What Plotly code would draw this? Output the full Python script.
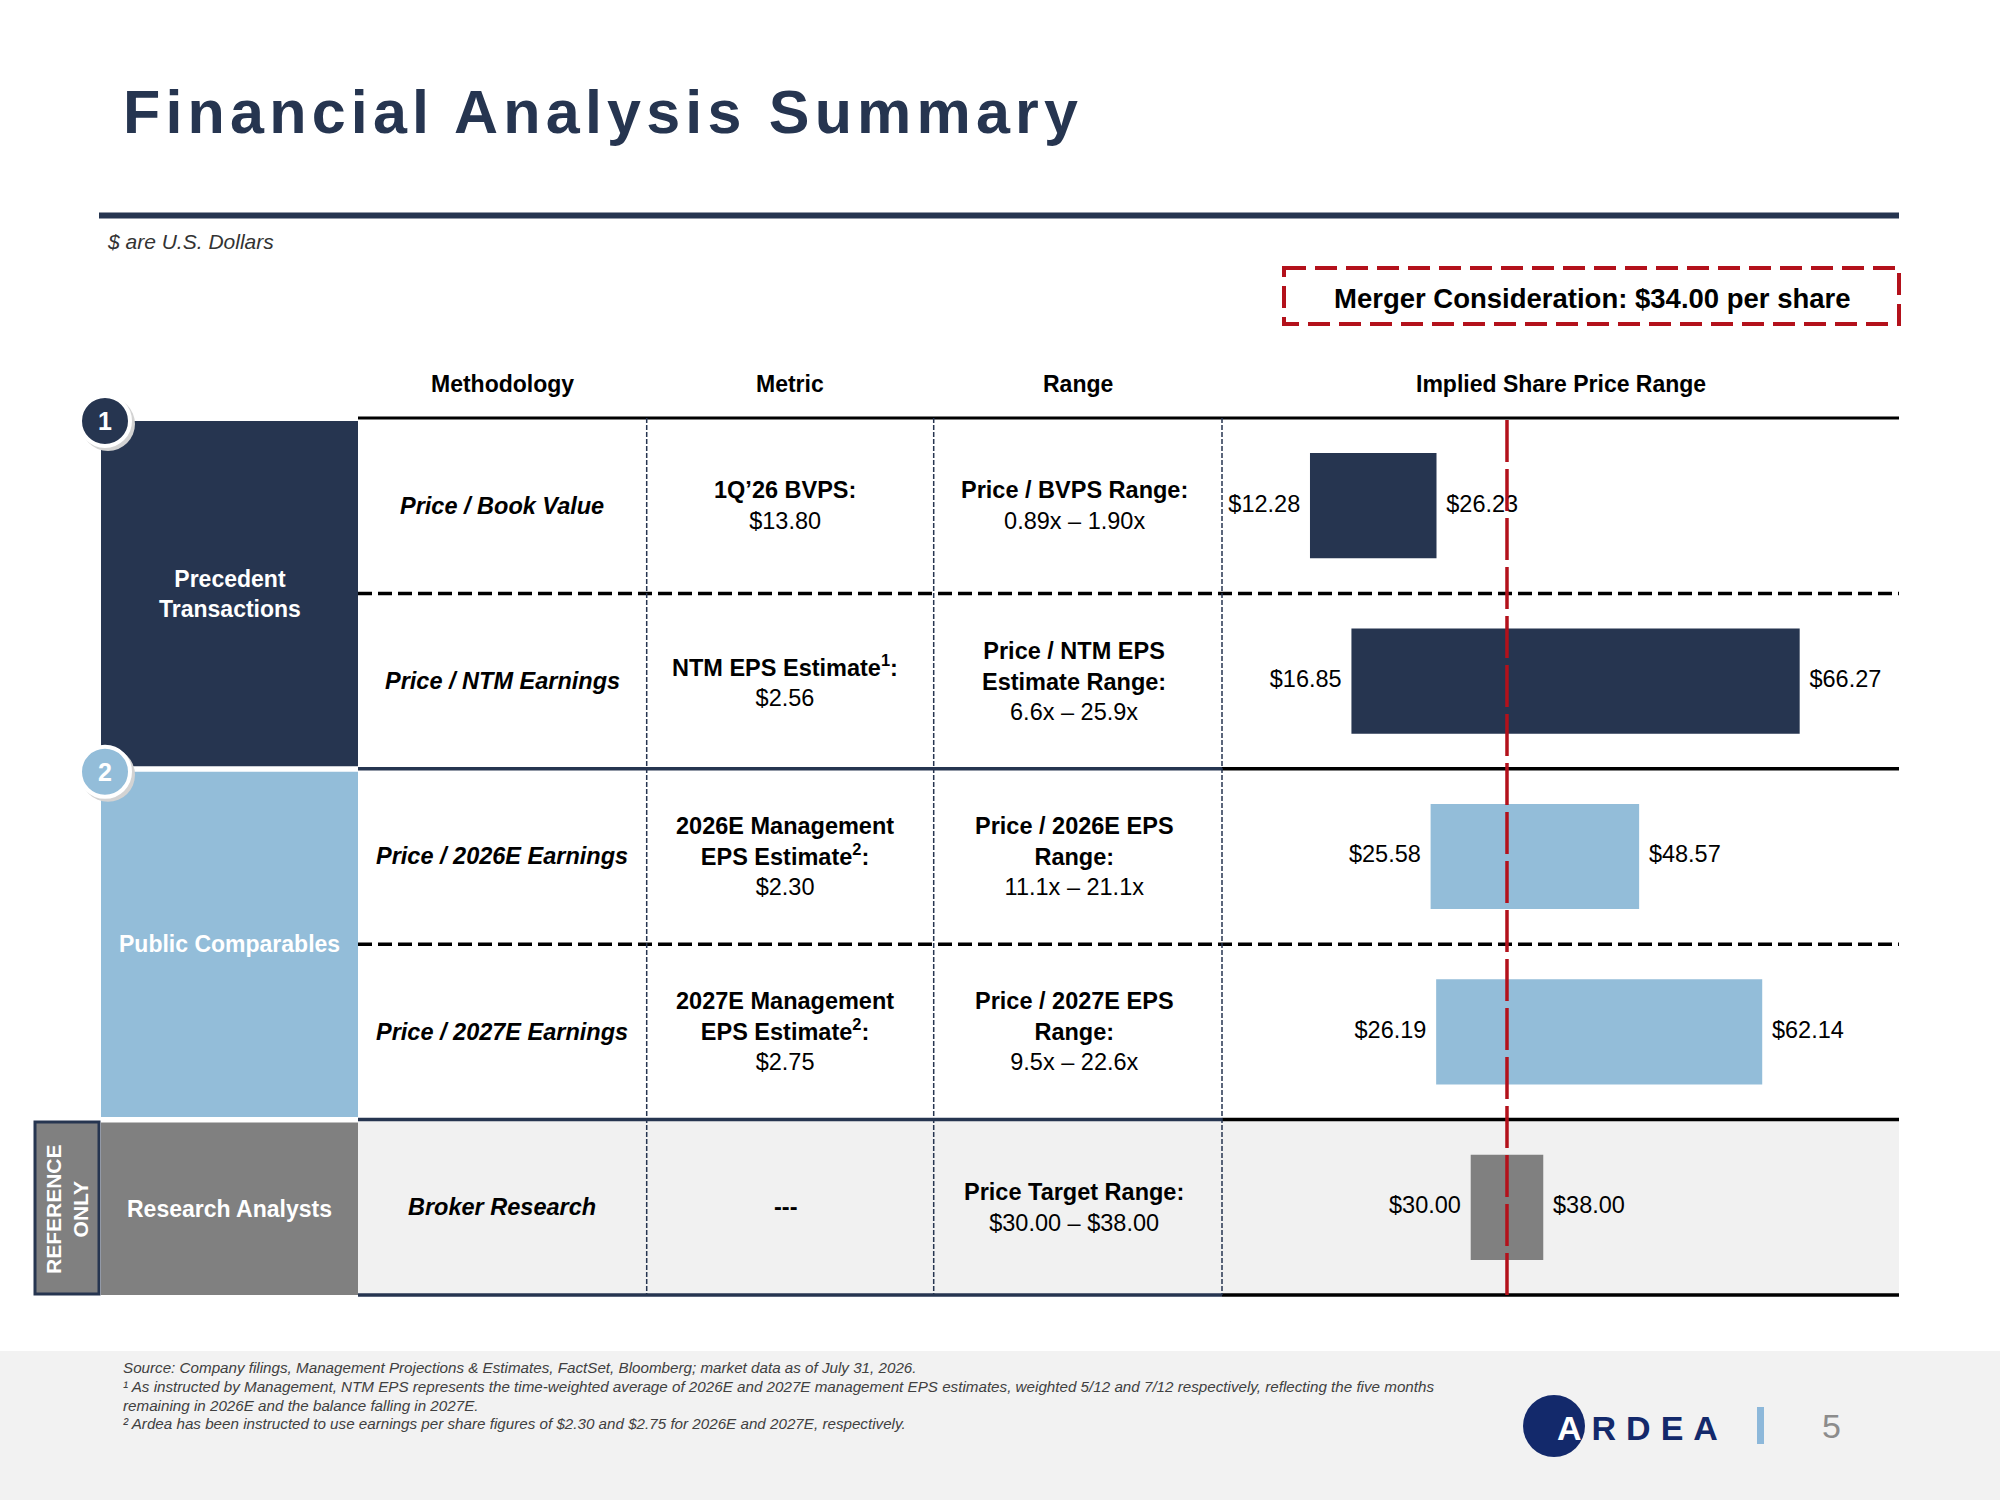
import plotly.graph_objects as go

# ---- data ----
methods = ["Price / Book Value", "Price / NTM Earnings", "Price / 2026E Earnings",
           "Price / 2027E Earnings", "Broker Research"]
metric_titles = ["1Q’26 BVPS:", "NTM EPS Estimate<sup>1</sup>:",
                 "2026E Management<br>EPS Estimate<sup>2</sup>:",
                 "2027E Management<br>EPS Estimate<sup>2</sup>:", "---"]
metric_values = ["$13.80", "$2.56", "$2.30", "$2.75", ""]
range_titles = ["Price / BVPS Range:", "Price / NTM EPS<br>Estimate Range:",
                "Price / 2026E EPS<br>Range:", "Price / 2027E EPS<br>Range:",
                "Price Target Range:"]
range_values = ["0.89x – 1.90x", "6.6x – 25.9x", "11.1x – 21.1x", "9.5x – 22.6x",
                "$30.00 – $38.00"]
low_price = [12.28, 16.85, 25.58, 26.19, 30.00]
high_price = [26.23, 66.27, 48.57, 62.14, 38.00]
merger_price = 34.00

groups = ["Precedent<br>Transactions", "Public Comparables", "Research Analysts"]
group_rows = [(0, 2), (2, 4), (4, 5)]
headers = ["Methodology", "Metric", "Range", "Implied Share Price Range"]

footnotes = [
    "Source: Company filings, Management Projections & Estimates, FactSet, Bloomberg; market data as of July 31, 2026.",
    "¹ As instructed by Management, NTM EPS represents the time-weighted average of 2026E and 2027E management EPS estimates, weighted 5/12 and 7/12 respectively, reflecting the five months",
    "remaining in 2026E and the balance falling in 2027E.",
    "² Ardea has been instructed to use earnings per share figures of $2.30 and $2.75 for 2026E and 2027E, respectively.",
]

# ---- styling ----
NAVY = "#263550"
LIGHT_BLUE = "#93BDD9"
GREY = "#808080"
RED = "#B3111B"
FONT = "Liberation Sans, Arial, sans-serif"
bar_colors = [NAVY, NAVY, LIGHT_BLUE, LIGHT_BLUE, GREY]
group_colors = [NAVY, LIGHT_BLUE, GREY]

W, H = 2000, 1500
TOP, ROW_H = 418, 175.4
BOTTOM = TOP + 5 * ROW_H
col_edges = [358, 646.7, 933.7, 1222, 1899]
text_cols = [502, 785, 1074]


def px(x):
    return x / W


def py(y):
    return 1 - y / H


annotations = []
shapes = []


def note(x, y, text, size, color="black", weight="normal", style="normal",
         xanchor="center", angle=0):
    annotations.append(dict(
        x=px(x), y=py(y), xref="paper", yref="paper", text=text, showarrow=False,
        xanchor=xanchor, yanchor="middle", align="center" if xanchor == "center" else "left",
        textangle=angle,
        font=dict(family=FONT, size=size, color=color, weight=weight, style=style)))


def line(x0, y0, x1, y1, color, width, dash="solid", layer="above"):
    shapes.append(dict(type="line", xref="paper", yref="paper", x0=px(x0), y0=py(y0),
                       x1=px(x1), y1=py(y1), line=dict(color=color, width=width, dash=dash),
                       layer=layer))


def rect(x0, y0, x1, y1, fill, border=None, width=0, dash="solid", layer="below"):
    shapes.append(dict(type="rect", xref="paper", yref="paper", x0=px(x0), y0=py(y0),
                       x1=px(x1), y1=py(y1), fillcolor=fill, layer=layer,
                       line=dict(color=border or fill, width=width, dash=dash)))


def circle(cx, cy, r, fill, border, width):
    shapes.append(dict(type="circle", xref="paper", yref="paper", x0=px(cx - r), y0=py(cy + r),
                       x1=px(cx + r), y1=py(cy - r), fillcolor=fill, layer="above",
                       line=dict(color=border, width=width)))


# header / title
note(121, 112, "Financial Analysis Summary", 61, NAVY, "bold", xanchor="left")
line(99, 215.5, 1899, 215.5, NAVY, 6)
note(105, 241, "$ are U.S. Dollars", 21, "#333333", style="italic", xanchor="left")

rect(1284, 268, 1899, 324, "rgba(0,0,0,0)", RED, 4, "22px,9px", layer="above")
note(1592, 298, f"Merger Consideration: ${merger_price:.2f} per share", 27.5, "black", "bold")

for i, h in enumerate(headers):
    note((col_edges[i] + col_edges[i + 1]) / 2, 384, h, 23, "black", "bold")

# row 5 background, footer band
rect(358, BOTTOM - ROW_H, 1899, BOTTOM, "#F1F1F1")
rect(0, 1351, 2000, 1500, "#F2F2F2")

# group blocks
for (r0, r1), g, c in zip(group_rows, groups, group_colors):
    top = TOP + r0 * ROW_H + 3
    bot = TOP + r1 * ROW_H - (0 if r1 == 5 else 2.5)
    rect(101, top, 358, bot, c)
    note(229.5, (top + bot) / 2, g, 23, "white", "bold")

rect(35, 1122, 99, BOTTOM - 1, GREY, NAVY, 3)
note(67, 1209, "REFERENCE<br>ONLY", 21, "white", "bold", angle=-90)

# table lines
line(358, TOP, 1899, TOP, "black", 3)
for k in range(1, 6):
    y = TOP + k * ROW_H
    if k % 2 == 1 and k < 5:
        line(358, y, 1899, y, "black", 3.5, "14px,6px")
    else:
        line(358, y, 1222, y, NAVY, 3.5)
        line(1222, y, 1899, y, "black", 3.5)
for x in col_edges[1:4]:
    line(x, TOP, x, BOTTOM, NAVY, 1.5, "5px,2px")

# cell text
for i in range(5):
    yc = TOP + (i + 0.5) * ROW_H
    note(text_cols[0], yc, f"<i>{methods[i]}</i>", 23.5, "black", "bold")
    mt = f"<b>{metric_titles[i]}</b>" + (f"<br>{metric_values[i]}" if metric_values[i] else "")
    note(text_cols[1], yc, mt, 23.5)
    note(text_cols[2], yc, f"<b>{range_titles[i]}</b><br>{range_values[i]}", 23.5)

# numbered circles
for (r0, _), c, n in zip(group_rows[:2], group_colors[:2], ["1", "2"]):
    cy = TOP + r0 * ROW_H + 3
    circle(108, cy + 3, 27, "#D3D3D3", "#D3D3D3", 0)
    circle(105, cy, 25, c, "white", 4)
    note(105, cy, n, 25, "white", "bold")

# footer
for fy, t in zip([1367, 1386, 1405, 1423], footnotes):
    note(121, fy, t, 15.2, "#404040", style="italic", xanchor="left")
circle(1554, 1426, 31, "#13296B", "#13296B", 0)
note(1555, 1428, "<span style='color:white'>A</span>RDEA", 34, "#13296B", "bold",
     xanchor="left")
rect(1757, 1407, 1764, 1444, "#8DB8DA", layer="above")
note(1831, 1426, "5", 34, "#8C8C8C")

# red merger line in data coordinates
shapes.append(dict(type="line", xref="x", yref="paper", x0=merger_price, x1=merger_price,
                   y0=py(BOTTOM), y1=py(TOP), layer="above",
                   line=dict(color=RED, width=3.5, dash="42px,7px")))

fig = go.Figure()
fig.add_trace(go.Bar(
    y=methods, x=[h - l for l, h in zip(low_price, high_price)], base=low_price,
    orientation="h", width=0.6, marker=dict(color=bar_colors, line=dict(width=0)),
    hoverinfo="skip", showlegend=False))
fig.add_trace(go.Scatter(
    y=methods, x=low_price, mode="markers+text", text=[f"${v:.2f}" for v in low_price],
    textposition="middle left", marker=dict(size=14, opacity=0),
    textfont=dict(family=FONT, size=23.5, color="black"), hoverinfo="skip", showlegend=False))
fig.add_trace(go.Scatter(
    y=methods, x=high_price, mode="markers+text", text=[f"${v:.2f}" for v in high_price],
    textposition="middle right", marker=dict(size=14, opacity=0),
    textfont=dict(family=FONT, size=23.5, color="black"), hoverinfo="skip", showlegend=False))

fig.update_layout(
    width=W, height=H, margin=dict(l=0, r=0, t=0, b=0),
    paper_bgcolor="white", plot_bgcolor="rgba(0,0,0,0)",
    xaxis=dict(domain=[px(1222), px(1899)], range=[2.58, 77.22], visible=False, fixedrange=True),
    yaxis=dict(domain=[py(BOTTOM), py(TOP)], type="category", categoryorder="array",
               categoryarray=methods, range=[4.5, -0.5], visible=False, fixedrange=True),
    shapes=shapes, annotations=annotations, font=dict(family=FONT),
)

# the slide spaces out the letters of the title and the logo
spacing_js = """
document.body.style.margin = '0';
var spacing = {'Financial Analysis Summary': '5.2px', 'ARDEA': '10px'};
document.querySelectorAll('text.annotation-text').forEach(function (t) {
    if (spacing[t.textContent]) { t.style.letterSpacing = spacing[t.textContent]; }
});
"""
fig.write_html("out.html", config={"displayModeBar": False}, post_script=spacing_js)
